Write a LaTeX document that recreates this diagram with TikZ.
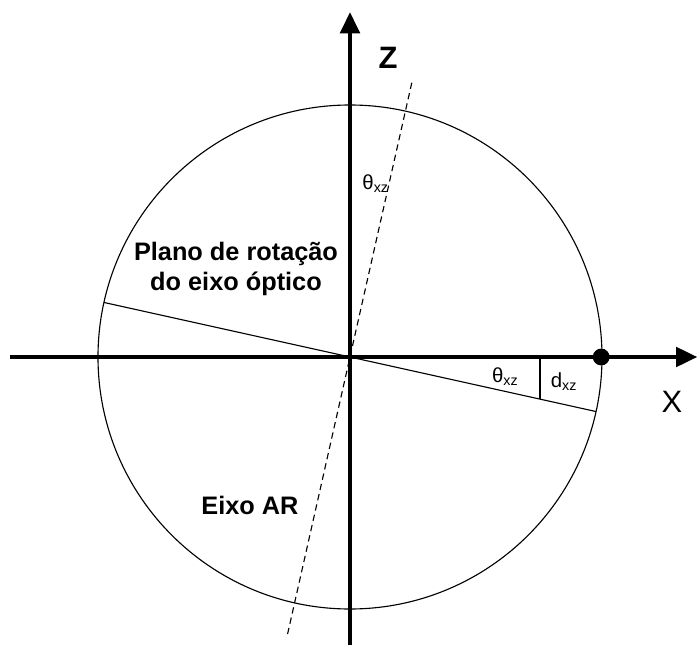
\documentclass[tikz,border=0pt]{standalone}
\usepackage{fontspec}
\setmainfont{Liberation Sans}
\usetikzlibrary{arrows.meta, positioning}

\begin{document}
\begin{tikzpicture}[
    axis/.style={line width=2.2pt, -{Triangle[length=15pt, width=14pt]}},
    thinln/.style={line width=0.8pt},
    lbl/.style={font=\bfseries\fontsize{18}{21}\selectfont, align=center},
    ang/.style={font=\fontsize{14.5}{16}\selectfont, inner sep=0pt}
  ]
    \useasboundingbox (-8.75,-7.2) rectangle (8.675,8.925);
    % eixos
    \coordinate (O) at (0,0);
    \coordinate (xl) at (-8.5,0);
    \coordinate (xr) at (8.68,0);
    \coordinate (zb) at (0,-7.2);
    \coordinate (zt) at (0,8.62);
    \draw[thinln] (O) circle (6.3);
    \draw[axis] (xl) -- (xr);
    \draw[axis] (zb) -- (zt);
    % plano de rotacao e eixo AR
    \coordinate (pl) at (167.5:6.3);
    \coordinate (pr) at (-12.5:6.3);
    \draw[thinln] (pl) -- (pr);
    \coordinate (ab) at (257.3:7.1);
    \coordinate (at) at (77.3:7.1);
    \draw[thinln, dash pattern=on 4.5pt off 3pt] (ab) -- (at);
    \coordinate (dt) at (4.75,0);
    \coordinate (db) at (4.75,{-4.75*tan(12.5)});
    \draw[thinln] (dt) -- (db);
    \node[circle, fill, inner sep=0pt, minimum size=12pt] (pt) at (6.28,0) {};
    % textos
    \node[font=\bfseries\fontsize{22}{25}\selectfont] (zlab) at (0.95,7.48) {Z};
    \node[font=\fontsize{22}{25}\selectfont] (xlab) at (8.05,-1.12) {X};
    \node[ang] (t1) at (0.64,4.33) {θ\textsubscript{xz}};
    \node[ang] (t2) at (3.88,-0.5) {θ\textsubscript{xz}};
    \node[ang] (dxz) at (5.35,-0.62) {d\textsubscript{xz}};
    \node[lbl] (plano) at (-2.85,2.2) {Plano de rotação\\do eixo óptico};
    \node[lbl] (ar) at (-2.5,-3.72) {Eixo AR};
\end{tikzpicture}
\end{document}
